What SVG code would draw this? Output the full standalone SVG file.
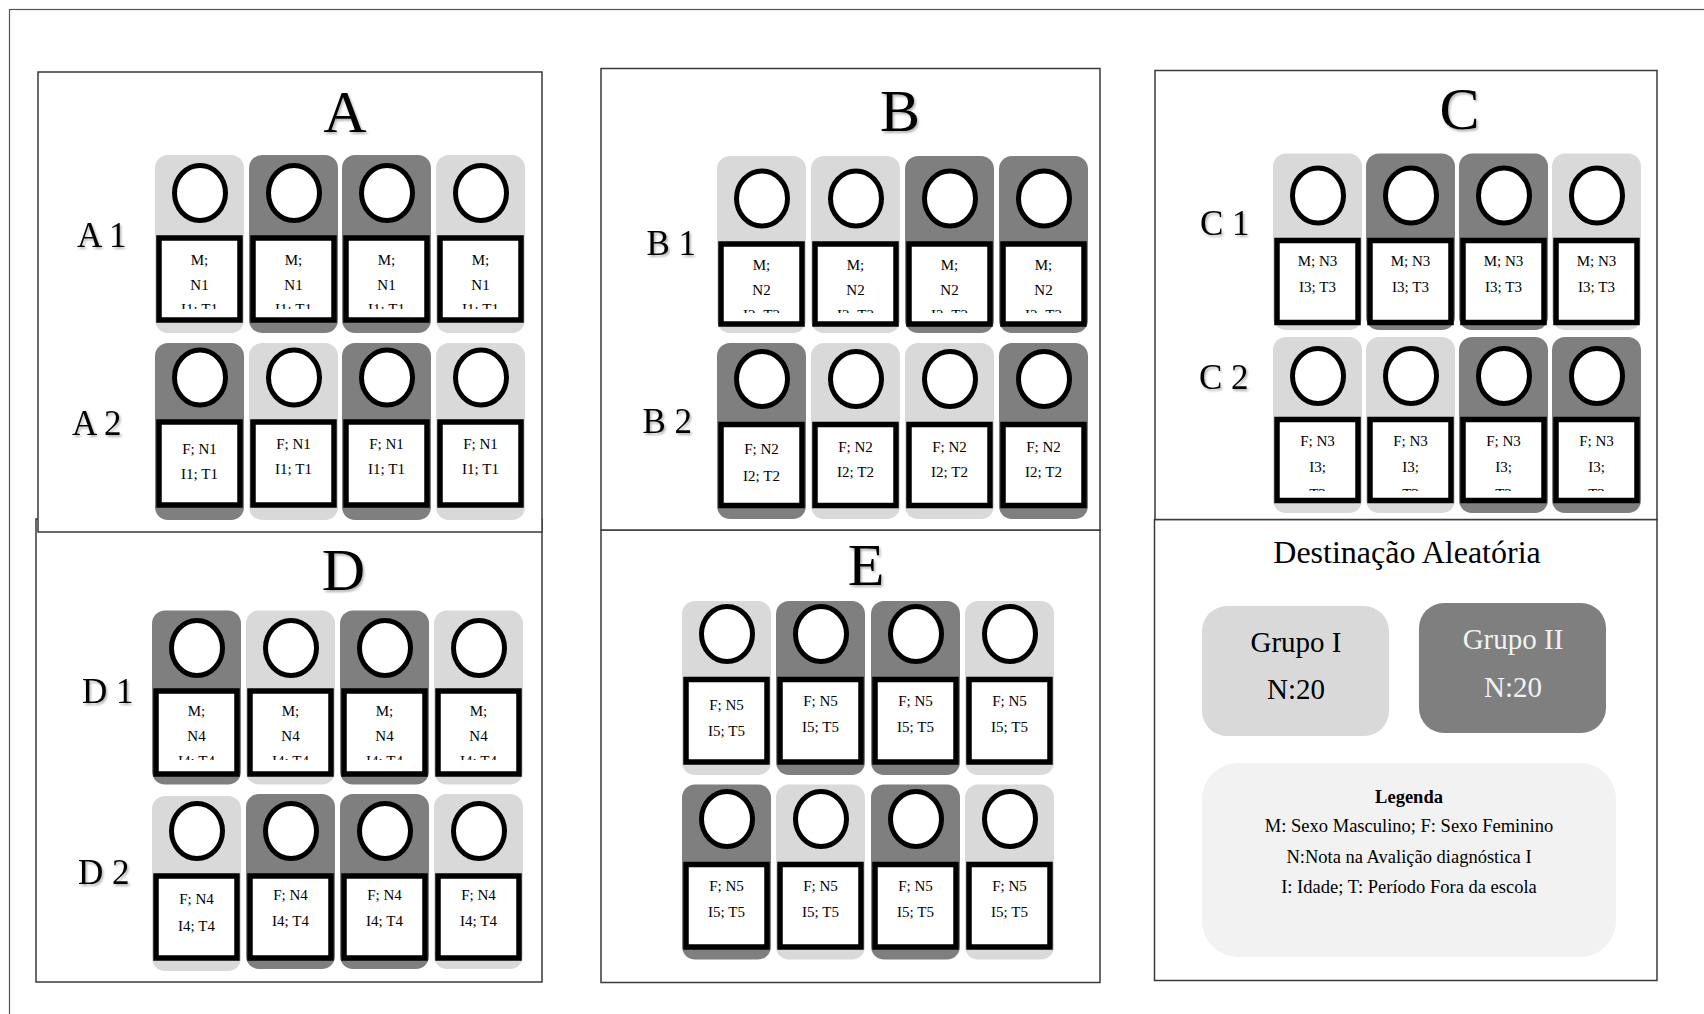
<svg xmlns="http://www.w3.org/2000/svg" width="1704" height="1014" viewBox="0 0 1704 1014">
<style>
text{font-family:"Liberation Serif","Times New Roman",serif;fill:#000}
.panel{fill:#fff;stroke:#3a3a3a;stroke-width:1.5}
.lt{fill:#D9D9D9}
.dk{fill:#7F7F7F}
.ring{fill:#fff;stroke:#000;stroke-width:5}
.box{fill:#fff;stroke:#000;stroke-width:5.5}
.ct{font-size:15px;text-anchor:middle}
.big{font-size:60px;text-anchor:middle;filter:url(#sh)}
.row{font-size:35px;filter:url(#sh)}
.grp{font-size:29px;text-anchor:middle}
.leg{font-size:18.5px;text-anchor:middle}
</style>
<defs>
<filter id="sh" x="-20%" y="-20%" width="140%" height="140%"><feDropShadow dx="1.5" dy="2" stdDeviation="1.2" flood-color="#000" flood-opacity="0.3"/></filter>
<clipPath id="cA1"><rect x="150" y="240" width="390" height="69"/></clipPath>
<clipPath id="cB1"><rect x="710" y="246" width="390" height="67"/></clipPath>
<clipPath id="cC2"><rect x="1265" y="422" width="390" height="69"/></clipPath>
<clipPath id="cD1"><rect x="145" y="693" width="390" height="67"/></clipPath>
</defs>
<rect x="9.5" y="9.5" width="1800" height="1100" fill="#fff" stroke="#555" stroke-width="1.2"/>

<g id="panel-D"><rect class="panel" x="36" y="519" width="506" height="463"/>
<text class="big" x="343.5" y="590">D</text>
<text class="row" x="82" y="703">D 1</text>
<text class="row" x="78" y="884">D 2</text>
</g>
<g id="panel-A"><rect class="panel" x="38" y="72" width="504" height="460"/>
<text class="big" x="345" y="132">A</text>
<text class="row" x="77" y="247">A 1</text>
<text class="row" x="72" y="435">A 2</text>
</g>
<g id="panel-E"><rect class="panel" x="601" y="530" width="499" height="452.5"/>
<text class="big" x="866" y="584.5">E</text>
</g>
<g id="panel-B"><rect class="panel" x="601" y="68.5" width="499" height="461.5"/>
<text class="big" x="900" y="131">B</text>
<text class="row" x="646.5" y="255">B 1</text>
<text class="row" x="642.5" y="433">B 2</text>
</g>
<g id="panel-Dest"><rect class="panel" x="1154.5" y="519.5" width="502.5" height="461"/>
<text x="1407" y="563" font-size="32" text-anchor="middle">Destinação Aleatória</text>
</g>
<g id="panel-C"><rect class="panel" x="1155" y="70.5" width="502" height="449"/>
<text class="big" x="1459.5" y="128.5">C</text>
<text class="row" x="1200" y="235">C 1</text>
<text class="row" x="1199" y="389">C 2</text>
</g>

<!-- A1 -->
<g id="A1-1"><rect class="lt" x="155" y="155" width="89" height="178" rx="13"/><ellipse class="ring" cx="200" cy="193" rx="25.5" ry="27.5"/><rect class="box" x="159" y="238" width="81" height="82"/><g clip-path="url(#cA1)"><text class="ct" x="199.5" y="265">M;</text><text class="ct" x="199.5" y="289.5">N1</text><text class="ct" x="199.5" y="314">I1; T1</text></g></g>
<g id="A1-2"><rect class="dk" x="249" y="155" width="89" height="178" rx="13"/><ellipse class="ring" cx="294" cy="193" rx="25.5" ry="27.5"/><rect class="box" x="253" y="238" width="81" height="82"/><g clip-path="url(#cA1)"><text class="ct" x="293.5" y="265">M;</text><text class="ct" x="293.5" y="289.5">N1</text><text class="ct" x="293.5" y="314">I1; T1</text></g></g>
<g id="A1-3"><rect class="dk" x="342" y="155" width="89" height="178" rx="13"/><ellipse class="ring" cx="387" cy="193" rx="25.5" ry="27.5"/><rect class="box" x="346" y="238" width="81" height="82"/><g clip-path="url(#cA1)"><text class="ct" x="386.5" y="265">M;</text><text class="ct" x="386.5" y="289.5">N1</text><text class="ct" x="386.5" y="314">I1; T1</text></g></g>
<g id="A1-4"><rect class="lt" x="436" y="155" width="89" height="178" rx="13"/><ellipse class="ring" cx="481" cy="193" rx="25.5" ry="27.5"/><rect class="box" x="440" y="238" width="81" height="82"/><g clip-path="url(#cA1)"><text class="ct" x="480.5" y="265">M;</text><text class="ct" x="480.5" y="289.5">N1</text><text class="ct" x="480.5" y="314">I1; T1</text></g></g>
<!-- A2 -->
<g id="A2-1"><rect class="dk" x="155" y="343" width="89" height="177" rx="13"/><ellipse class="ring" cx="200" cy="377.5" rx="25.5" ry="27.5"/><rect class="box" x="159" y="422" width="81" height="83"/><text class="ct" x="199.5" y="454">F; N1</text><text class="ct" x="199.5" y="479">I1; T1</text></g>
<g id="A2-2"><rect class="lt" x="249" y="343" width="89" height="177" rx="13"/><ellipse class="ring" cx="294" cy="377.5" rx="25.5" ry="27.5"/><rect class="box" x="253" y="422" width="81" height="83"/><text class="ct" x="293.5" y="449">F; N1</text><text class="ct" x="293.5" y="474">I1; T1</text></g>
<g id="A2-3"><rect class="dk" x="342" y="343" width="89" height="177" rx="13"/><ellipse class="ring" cx="387" cy="377.5" rx="25.5" ry="27.5"/><rect class="box" x="346" y="422" width="81" height="83"/><text class="ct" x="386.5" y="449">F; N1</text><text class="ct" x="386.5" y="474">I1; T1</text></g>
<g id="A2-4"><rect class="lt" x="436" y="343" width="89" height="177" rx="13"/><ellipse class="ring" cx="481" cy="377.5" rx="25.5" ry="27.5"/><rect class="box" x="440" y="422" width="81" height="83"/><text class="ct" x="480.5" y="449">F; N1</text><text class="ct" x="480.5" y="474">I1; T1</text></g>

<!-- B1 -->
<g id="B1-1"><rect class="lt" x="717" y="156" width="89" height="177" rx="13"/><ellipse class="ring" cx="762" cy="198.5" rx="25.5" ry="27.5"/><rect class="box" x="721" y="244" width="81" height="80"/><g clip-path="url(#cB1)"><text class="ct" x="761.5" y="270">M;</text><text class="ct" x="761.5" y="295">N2</text><text class="ct" x="761.5" y="320">I2; T2</text></g></g>
<g id="B1-2"><rect class="lt" x="811" y="156" width="89" height="177" rx="13"/><ellipse class="ring" cx="856" cy="198.5" rx="25.5" ry="27.5"/><rect class="box" x="815" y="244" width="81" height="80"/><g clip-path="url(#cB1)"><text class="ct" x="855.5" y="270">M;</text><text class="ct" x="855.5" y="295">N2</text><text class="ct" x="855.5" y="320">I2; T2</text></g></g>
<g id="B1-3"><rect class="dk" x="905" y="156" width="89" height="177" rx="13"/><ellipse class="ring" cx="950" cy="198.5" rx="25.5" ry="27.5"/><rect class="box" x="909" y="244" width="81" height="80"/><g clip-path="url(#cB1)"><text class="ct" x="949.5" y="270">M;</text><text class="ct" x="949.5" y="295">N2</text><text class="ct" x="949.5" y="320">I2; T2</text></g></g>
<g id="B1-4"><rect class="dk" x="999" y="156" width="89" height="177" rx="13"/><ellipse class="ring" cx="1044" cy="198.5" rx="25.5" ry="27.5"/><rect class="box" x="1003" y="244" width="81" height="80"/><g clip-path="url(#cB1)"><text class="ct" x="1043.5" y="270">M;</text><text class="ct" x="1043.5" y="295">N2</text><text class="ct" x="1043.5" y="320">I2; T2</text></g></g>
<!-- B2 -->
<g id="B2-1"><rect class="dk" x="717" y="343" width="89" height="176" rx="13"/><ellipse class="ring" cx="762" cy="379" rx="25.5" ry="27.5"/><rect class="box" x="721" y="424.5" width="81" height="81"/><text class="ct" x="761.5" y="454.3">F; N2</text><text class="ct" x="761.5" y="480.7">I2; T2</text></g>
<g id="B2-2"><rect class="lt" x="811" y="343" width="89" height="176" rx="13"/><ellipse class="ring" cx="856" cy="379" rx="25.5" ry="27.5"/><rect class="box" x="815" y="424.5" width="81" height="81"/><text class="ct" x="855.5" y="451.7">F; N2</text><text class="ct" x="855.5" y="477.3">I2; T2</text></g>
<g id="B2-3"><rect class="lt" x="905" y="343" width="89" height="176" rx="13"/><ellipse class="ring" cx="950" cy="379" rx="25.5" ry="27.5"/><rect class="box" x="909" y="424.5" width="81" height="81"/><text class="ct" x="949.5" y="451.7">F; N2</text><text class="ct" x="949.5" y="477.3">I2; T2</text></g>
<g id="B2-4"><rect class="dk" x="999" y="343" width="89" height="176" rx="13"/><ellipse class="ring" cx="1044" cy="379" rx="25.5" ry="27.5"/><rect class="box" x="1003" y="424.5" width="81" height="81"/><text class="ct" x="1043.5" y="451.7">F; N2</text><text class="ct" x="1043.5" y="477.3">I2; T2</text></g>

<!-- C1 -->
<g id="C1-1"><rect class="lt" x="1273" y="153.5" width="89" height="176.5" rx="13"/><ellipse class="ring" cx="1318" cy="195.5" rx="25.5" ry="27.5"/><rect class="box" x="1277" y="240.5" width="81" height="82"/><text class="ct" x="1317.5" y="265.7">M; N3</text><text class="ct" x="1317.5" y="291.7">I3; T3</text></g>
<g id="C1-2"><rect class="dk" x="1366" y="153.5" width="89" height="176.5" rx="13"/><ellipse class="ring" cx="1411" cy="195.5" rx="25.5" ry="27.5"/><rect class="box" x="1370" y="240.5" width="81" height="82"/><text class="ct" x="1410.5" y="265.7">M; N3</text><text class="ct" x="1410.5" y="291.7">I3; T3</text></g>
<g id="C1-3"><rect class="dk" x="1459" y="153.5" width="89" height="176.5" rx="13"/><ellipse class="ring" cx="1504" cy="195.5" rx="25.5" ry="27.5"/><rect class="box" x="1463" y="240.5" width="81" height="82"/><text class="ct" x="1503.5" y="265.7">M; N3</text><text class="ct" x="1503.5" y="291.7">I3; T3</text></g>
<g id="C1-4"><rect class="lt" x="1552" y="153.5" width="89" height="176.5" rx="13"/><ellipse class="ring" cx="1597" cy="195.5" rx="25.5" ry="27.5"/><rect class="box" x="1556" y="240.5" width="81" height="82"/><text class="ct" x="1596.5" y="265.7">M; N3</text><text class="ct" x="1596.5" y="291.7">I3; T3</text></g>
<!-- C2 -->
<g id="C2-1"><rect class="lt" x="1273" y="337" width="89" height="176" rx="13"/><ellipse class="ring" cx="1318" cy="376" rx="25.5" ry="27.5"/><rect class="box" x="1277" y="419.5" width="81" height="81"/><g clip-path="url(#cC2)"><text class="ct" x="1317.5" y="446">F; N3</text><text class="ct" x="1317.5" y="472.3">I3;</text><text class="ct" x="1317.5" y="498.6">T3</text></g></g>
<g id="C2-2"><rect class="lt" x="1366" y="337" width="89" height="176" rx="13"/><ellipse class="ring" cx="1411" cy="376" rx="25.5" ry="27.5"/><rect class="box" x="1370" y="419.5" width="81" height="81"/><g clip-path="url(#cC2)"><text class="ct" x="1410.5" y="446">F; N3</text><text class="ct" x="1410.5" y="472.3">I3;</text><text class="ct" x="1410.5" y="498.6">T3</text></g></g>
<g id="C2-3"><rect class="dk" x="1459" y="337" width="89" height="176" rx="13"/><ellipse class="ring" cx="1504" cy="376" rx="25.5" ry="27.5"/><rect class="box" x="1463" y="419.5" width="81" height="81"/><g clip-path="url(#cC2)"><text class="ct" x="1503.5" y="446">F; N3</text><text class="ct" x="1503.5" y="472.3">I3;</text><text class="ct" x="1503.5" y="498.6">T3</text></g></g>
<g id="C2-4"><rect class="dk" x="1552" y="337" width="89" height="176" rx="13"/><ellipse class="ring" cx="1597" cy="376" rx="25.5" ry="27.5"/><rect class="box" x="1556" y="419.5" width="81" height="81"/><g clip-path="url(#cC2)"><text class="ct" x="1596.5" y="446">F; N3</text><text class="ct" x="1596.5" y="472.3">I3;</text><text class="ct" x="1596.5" y="498.6">T3</text></g></g>

<!-- D1 -->
<g id="D1-1"><rect class="dk" x="152" y="610.5" width="89" height="174" rx="13"/><ellipse class="ring" cx="197" cy="648" rx="25.5" ry="27.5"/><rect class="box" x="156" y="691" width="81" height="83"/><g clip-path="url(#cD1)"><text class="ct" x="196.5" y="715.5">M;</text><text class="ct" x="196.5" y="740.5">N4</text><text class="ct" x="196.5" y="765.5">I4; T4</text></g></g>
<g id="D1-2"><rect class="lt" x="246" y="610.5" width="89" height="174" rx="13"/><ellipse class="ring" cx="291" cy="648" rx="25.5" ry="27.5"/><rect class="box" x="250" y="691" width="81" height="83"/><g clip-path="url(#cD1)"><text class="ct" x="290.5" y="715.5">M;</text><text class="ct" x="290.5" y="740.5">N4</text><text class="ct" x="290.5" y="765.5">I4; T4</text></g></g>
<g id="D1-3"><rect class="dk" x="340" y="610.5" width="89" height="174" rx="13"/><ellipse class="ring" cx="385" cy="648" rx="25.5" ry="27.5"/><rect class="box" x="344" y="691" width="81" height="83"/><g clip-path="url(#cD1)"><text class="ct" x="384.5" y="715.5">M;</text><text class="ct" x="384.5" y="740.5">N4</text><text class="ct" x="384.5" y="765.5">I4; T4</text></g></g>
<g id="D1-4"><rect class="lt" x="434" y="610.5" width="89" height="174" rx="13"/><ellipse class="ring" cx="479" cy="648" rx="25.5" ry="27.5"/><rect class="box" x="438" y="691" width="81" height="83"/><g clip-path="url(#cD1)"><text class="ct" x="478.5" y="715.5">M;</text><text class="ct" x="478.5" y="740.5">N4</text><text class="ct" x="478.5" y="765.5">I4; T4</text></g></g>
<!-- D2 -->
<g id="D2-1"><rect class="lt" x="152" y="796" width="89" height="175" rx="13"/><ellipse class="ring" cx="197" cy="831" rx="25.5" ry="27.5"/><rect class="box" x="156" y="876" width="81" height="82"/><text class="ct" x="196.5" y="904">F; N4</text><text class="ct" x="196.5" y="930.5">I4; T4</text></g>
<g id="D2-2"><rect class="dk" x="246" y="794" width="89" height="175" rx="13"/><ellipse class="ring" cx="291" cy="831" rx="25.5" ry="27.5"/><rect class="box" x="250" y="876" width="81" height="82"/><text class="ct" x="290.5" y="899.5">F; N4</text><text class="ct" x="290.5" y="926">I4; T4</text></g>
<g id="D2-3"><rect class="dk" x="340" y="794" width="89" height="175" rx="13"/><ellipse class="ring" cx="385" cy="831" rx="25.5" ry="27.5"/><rect class="box" x="344" y="876" width="81" height="82"/><text class="ct" x="384.5" y="899.5">F; N4</text><text class="ct" x="384.5" y="926">I4; T4</text></g>
<g id="D2-4"><rect class="lt" x="434" y="794" width="89" height="175" rx="13"/><ellipse class="ring" cx="479" cy="831" rx="25.5" ry="27.5"/><rect class="box" x="438" y="876" width="81" height="82"/><text class="ct" x="478.5" y="899.5">F; N4</text><text class="ct" x="478.5" y="926">I4; T4</text></g>

<!-- E1 -->
<g id="E1-1"><rect class="lt" x="682" y="601" width="89" height="174" rx="13"/><ellipse class="ring" cx="727" cy="634" rx="25.5" ry="27.5"/><rect class="box" x="686" y="679.5" width="81" height="82.5"/><text class="ct" x="726.5" y="710">F; N5</text><text class="ct" x="726.5" y="736">I5; T5</text></g>
<g id="E1-2"><rect class="dk" x="776" y="601" width="89" height="174" rx="13"/><ellipse class="ring" cx="821" cy="634" rx="25.5" ry="27.5"/><rect class="box" x="780" y="679.5" width="81" height="82.5"/><text class="ct" x="820.5" y="705.7">F; N5</text><text class="ct" x="820.5" y="731.7">I5; T5</text></g>
<g id="E1-3"><rect class="dk" x="871" y="601" width="89" height="174" rx="13"/><ellipse class="ring" cx="916" cy="634" rx="25.5" ry="27.5"/><rect class="box" x="875" y="679.5" width="81" height="82.5"/><text class="ct" x="915.5" y="705.7">F; N5</text><text class="ct" x="915.5" y="731.7">I5; T5</text></g>
<g id="E1-4"><rect class="lt" x="965" y="601" width="89" height="174" rx="13"/><ellipse class="ring" cx="1010" cy="634" rx="25.5" ry="27.5"/><rect class="box" x="969" y="679.5" width="81" height="82.5"/><text class="ct" x="1009.5" y="705.7">F; N5</text><text class="ct" x="1009.5" y="731.7">I5; T5</text></g>
<!-- E2 -->
<g id="E2-1"><rect class="dk" x="682" y="784.5" width="89" height="175" rx="13"/><ellipse class="ring" cx="727" cy="819" rx="25.5" ry="27.5"/><rect class="box" x="686" y="864.5" width="81" height="82.5"/><text class="ct" x="726.5" y="890.7">F; N5</text><text class="ct" x="726.5" y="916.7">I5; T5</text></g>
<g id="E2-2"><rect class="lt" x="776" y="784.5" width="89" height="175" rx="13"/><ellipse class="ring" cx="821" cy="819" rx="25.5" ry="27.5"/><rect class="box" x="780" y="864.5" width="81" height="82.5"/><text class="ct" x="820.5" y="890.7">F; N5</text><text class="ct" x="820.5" y="916.7">I5; T5</text></g>
<g id="E2-3"><rect class="dk" x="871" y="784.5" width="89" height="175" rx="13"/><ellipse class="ring" cx="916" cy="819" rx="25.5" ry="27.5"/><rect class="box" x="875" y="864.5" width="81" height="82.5"/><text class="ct" x="915.5" y="890.7">F; N5</text><text class="ct" x="915.5" y="916.7">I5; T5</text></g>
<g id="E2-4"><rect class="lt" x="965" y="784.5" width="89" height="175" rx="13"/><ellipse class="ring" cx="1010" cy="819" rx="25.5" ry="27.5"/><rect class="box" x="969" y="864.5" width="81" height="82.5"/><text class="ct" x="1009.5" y="890.7">F; N5</text><text class="ct" x="1009.5" y="916.7">I5; T5</text></g>

<!-- Destinação -->
<g id="grupo-I"><rect x="1202" y="606" width="187" height="130" rx="25" fill="#D9D9D9"/><text class="grp" x="1296" y="652">Grupo I</text><text class="grp" x="1296" y="699">N:20</text></g>
<g id="grupo-II"><rect x="1419" y="603" width="187" height="130" rx="25" fill="#7F7F7F"/><text class="grp" x="1513" y="649" style="fill:#F2F2F2">Grupo II</text><text class="grp" x="1513" y="697" style="fill:#F2F2F2">N:20</text></g>
<g id="legenda"><rect x="1202" y="763" width="414" height="194" rx="36" fill="#F2F2F2"/>
<text class="leg" x="1409" y="803" font-weight="bold">Legenda</text>
<text class="leg" x="1409" y="832">M: Sexo Masculino; F: Sexo Feminino</text>
<text class="leg" x="1409" y="863">N:Nota na Avalição diagnóstica I</text>
<text class="leg" x="1409" y="893">I: Idade; T: Período Fora da escola</text>
</g>
<g id="connectors"/>
</svg>
